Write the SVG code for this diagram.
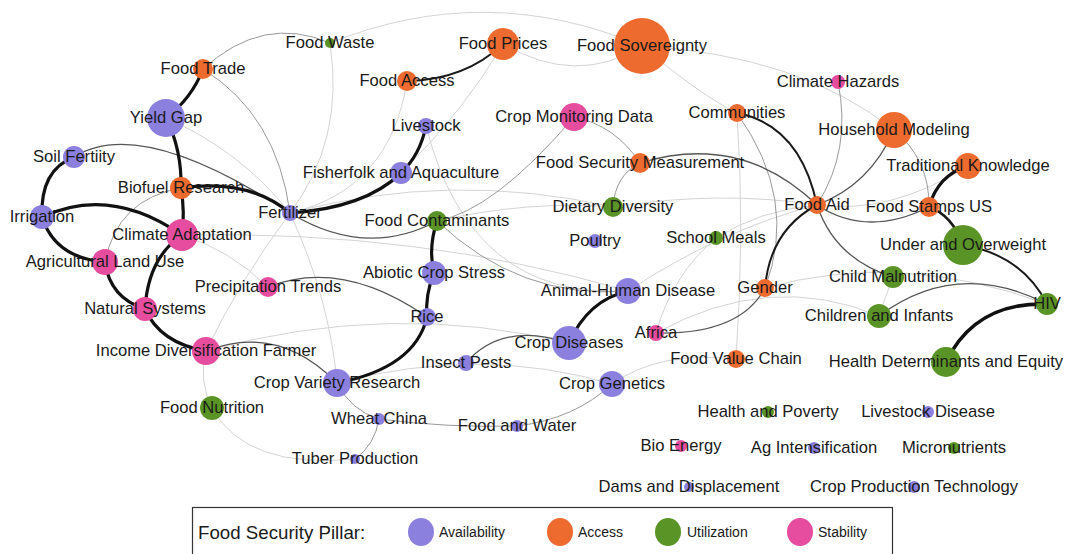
<svg xmlns="http://www.w3.org/2000/svg" width="1067" height="554" viewBox="0 0 1067 554">
<style>
.e{fill:none;stroke-linecap:round}
.k{stroke:#111;stroke-width:3.2}
.k2{stroke:#1a1a1a;stroke-width:2}
.m{stroke:#555;stroke-width:1.3}
.g{stroke:#9a9a9a;stroke-width:1}
.l{stroke:#d4d4d4;stroke-width:1}
.av{fill:#8b80de}
.ac{fill:#ee6b30}
.ut{fill:#5a9426}
.st{fill:#e64d9f}
text{font-family:"Liberation Sans",Arial,sans-serif;fill:#1a1a1a}
.t{font-size:16.6px;text-anchor:middle}
.lg{font-size:14px}
</style>
<rect width="1067" height="554" fill="#fff"/>
<g id="edges">
<path class="e l" d="M330 43 Q486 -20 642 46"/>
<path class="e l" d="M642 46 Q800 55 894 130"/>
<path class="e l" d="M642 46 Q700 95 737 113"/>
<path class="e l" d="M503 44 Q577 87 642 46"/>
<path class="e l" d="M330 43 Q345 140 290 213"/>
<path class="e l" d="M407 81 Q390 190 290 213"/>
<path class="e l" d="M503 44 Q465 110 401 173"/>
<path class="e l" d="M166 118 Q240 150 290 213"/>
<path class="e l" d="M182 235 Q230 250 268 287"/>
<path class="e l" d="M182 235 Q420 230 628 291"/>
<path class="e l" d="M290 213 Q450 170 613 207"/>
<path class="e l" d="M290 213 Q240 280 206 351"/>
<path class="e l" d="M290 213 Q330 300 337 383"/>
<path class="e l" d="M426 126 Q470 300 628 291"/>
<path class="e l" d="M437 221 Q530 200 613 207"/>
<path class="e l" d="M613 207 Q720 190 817 205"/>
<path class="e l" d="M817 205 Q760 210 716 238"/>
<path class="e l" d="M736 359 Q745 230 737 113"/>
<path class="e l" d="M765 288 Q900 250 1047 304"/>
<path class="e l" d="M612 384 Q660 350 736 359"/>
<path class="e l" d="M656 333 Q770 270 879 316"/>
<path class="e l" d="M206 351 Q390 300 569 343"/>
<path class="e l" d="M337 383 Q480 345 612 384"/>
<path class="e l" d="M817 205 Q890 215 968 166"/>
<path class="e l" d="M628 291 Q720 230 817 205"/>
<path class="e l" d="M893 277 Q885 298 879 316"/>
<path class="e l" d="M656 333 Q672 275 716 238"/>
<path class="e l" d="M206 351 Q198 380 212 408"/>
<path class="e l" d="M212 408 Q246 470 355 459"/>
<path class="e g" d="M640 163 Q615 175 613 207"/>
<path class="e g" d="M574 117 Q615 125 640 163"/>
<path class="e g" d="M894 130 Q930 160 929 207"/>
<path class="e g" d="M838 82 Q852 150 817 205"/>
<path class="e g" d="M203 69 Q277 115 290 213"/>
<path class="e g" d="M203 69 Q263 14 330 43"/>
<path class="e g" d="M737 113 Q799 200 765 288"/>
<path class="e g" d="M612 384 Q575 419 517 426"/>
<path class="e g" d="M517 426 Q448 428 379 419"/>
<path class="e g" d="M379 419 Q375 445 355 459"/>
<path class="e g" d="M379 419 Q350 410 337 383"/>
<path class="e g" d="M181 188 Q117 199 105 262"/>
<path class="e g" d="M437 221 Q520 300 628 291"/>
<path class="e g" d="M574 117 Q494 211 437 221"/>
<path class="e m" d="M74 157 Q140 115 290 213"/>
<path class="e m" d="M290 213 Q366 259 437 221"/>
<path class="e m" d="M268 287 Q342 258 427 317"/>
<path class="e m" d="M206 351 Q278 323 337 383"/>
<path class="e m" d="M569 343 Q502 321 466 363"/>
<path class="e m" d="M656 333 Q740 335 765 288"/>
<path class="e m" d="M817 205 Q741 132 640 163"/>
<path class="e m" d="M817 205 Q867 238 929 207"/>
<path class="e m" d="M817 205 Q835 259 893 277"/>
<path class="e m" d="M879 316 Q957 258 1047 304"/>
<path class="e m" d="M817 205 Q870 185 894 130"/>
<path class="e k" d="M203 69 Q192 98 166 118"/>
<path class="e k" d="M166 118 Q182 150 181 188"/>
<path class="e k" d="M181 188 Q185 212 182 235"/>
<path class="e k" d="M181 188 Q248 178 290 213"/>
<path class="e k" d="M74 157 Q40 170 42 217"/>
<path class="e k" d="M42 217 Q110 185 182 235"/>
<path class="e k" d="M42 217 Q55 258 105 262"/>
<path class="e k" d="M105 262 Q110 298 145 309"/>
<path class="e k" d="M182 235 Q148 258 145 309"/>
<path class="e k" d="M145 309 Q160 343 206 351"/>
<path class="e k" d="M290 213 Q365 208 401 173"/>
<path class="e k" d="M401 173 Q420 155 426 126"/>
<path class="e k" d="M437 221 Q428 248 434 273"/>
<path class="e k" d="M434 273 Q425 295 427 317"/>
<path class="e k" d="M427 317 Q415 368 337 383"/>
<path class="e k" d="M628 291 Q588 300 569 343"/>
<path class="e k2" d="M817 205 Q800 125 737 113"/>
<path class="e k2" d="M817 205 Q770 230 765 288"/>
<path class="e k" d="M929 207 Q938 175 968 166"/>
<path class="e k2" d="M929 207 Q952 215 963 245" style="stroke-width:2.6"/>
<path class="e k2" d="M963 245 Q1022 255 1047 304"/>
<path class="e k" d="M1047 304 Q975 302 946 362" style="stroke-width:3.6"/>
<path class="e k2" d="M407 81 Q465 80 503 44" style="stroke-width:1.8"/>
</g>
<g id="n-food-waste"><circle class="ut" cx="330" cy="43" r="5"/><text class="t" x="330" y="48">Food Waste</text></g>
<g id="n-food-trade"><circle class="ac" cx="203" cy="69" r="10"/><text class="t" x="203" y="74">Food Trade</text></g>
<g id="n-yield-gap"><circle class="av" cx="166" cy="118" r="19"/><text class="t" x="166" y="123">Yield Gap</text></g>
<g id="n-soil-fertility"><circle class="av" cx="74" cy="157" r="11"/><text class="t" x="74" y="162">Soil Fertiity</text></g>
<g id="n-biofuel-research"><circle class="ac" cx="181" cy="188" r="11"/><text class="t" x="181" y="193">Biofuel Research</text></g>
<g id="n-irrigation"><circle class="av" cx="42" cy="217" r="12"/><text class="t" x="42" y="222">Irrigation</text></g>
<g id="n-fertilizer"><circle class="av" cx="290" cy="213" r="8"/><text class="t" x="290" y="218">Fertilizer</text></g>
<g id="n-climate-adaptation"><circle class="st" cx="182" cy="235" r="16"/><text class="t" x="182" y="240">Climate Adaptation</text></g>
<g id="n-agricultural-land-use"><circle class="st" cx="105" cy="262" r="13"/><text class="t" x="105" y="267">Agricultural Land Use</text></g>
<g id="n-natural-systems"><circle class="st" cx="145" cy="309" r="12"/><text class="t" x="145" y="314">Natural Systems</text></g>
<g id="n-income-diversification"><circle class="st" cx="206" cy="351" r="14"/><text class="t" x="206" y="356">Income Diversification Farmer</text></g>
<g id="n-precipitation-trends"><circle class="st" cx="268" cy="287" r="10"/><text class="t" x="268" y="292">Precipitation Trends</text></g>
<g id="n-food-nutrition"><circle class="ut" cx="212" cy="408" r="12"/><text class="t" x="212" y="413">Food Nutrition</text></g>
<g id="n-crop-variety-research"><circle class="av" cx="337" cy="383" r="14"/><text class="t" x="337" y="388">Crop Variety Research</text></g>
<g id="n-tuber-production"><circle class="av" cx="355" cy="459" r="5"/><text class="t" x="355" y="464">Tuber Production</text></g>
<g id="n-wheat-china"><circle class="av" cx="379" cy="419" r="6"/><text class="t" x="379" y="424">Wheat China</text></g>
<g id="n-food-prices"><circle class="ac" cx="503" cy="44" r="16"/><text class="t" x="503" y="49">Food Prices</text></g>
<g id="n-food-sovereignty"><circle class="ac" cx="642" cy="46" r="28"/><text class="t" x="642" y="51">Food Sovereignty</text></g>
<g id="n-food-access"><circle class="ac" cx="407" cy="81" r="10"/><text class="t" x="407" y="86">Food Access</text></g>
<g id="n-livestock"><circle class="av" cx="426" cy="126" r="8"/><text class="t" x="426" y="131">Livestock</text></g>
<g id="n-fisherfolk"><circle class="av" cx="401" cy="173" r="11"/><text class="t" x="401" y="178">Fisherfolk and Aquaculture</text></g>
<g id="n-crop-monitoring"><circle class="st" cx="574" cy="117" r="14"/><text class="t" x="574" y="122">Crop Monitoring Data</text></g>
<g id="n-fs-measurement"><circle class="ac" cx="640" cy="163" r="10"/><text class="t" x="640" y="168">Food Security Measurement</text></g>
<g id="n-dietary-diversity"><circle class="ut" cx="613" cy="207" r="10"/><text class="t" x="613" y="212">Dietary Diversity</text></g>
<g id="n-food-contaminants"><circle class="ut" cx="437" cy="221" r="10"/><text class="t" x="437" y="226">Food Contaminants</text></g>
<g id="n-poultry"><circle class="av" cx="595" cy="241" r="7"/><text class="t" x="595" y="246">Poultry</text></g>
<g id="n-abiotic-crop-stress"><circle class="av" cx="434" cy="273" r="12"/><text class="t" x="434" y="278">Abiotic Crop Stress</text></g>
<g id="n-rice"><circle class="av" cx="427" cy="317" r="9"/><text class="t" x="427" y="322">Rice</text></g>
<g id="n-animal-human"><circle class="av" cx="628" cy="291" r="13"/><text class="t" x="628" y="296">Animal-Human Disease</text></g>
<g id="n-africa"><circle class="st" cx="656" cy="333" r="8"/><text class="t" x="656" y="338">Africa</text></g>
<g id="n-crop-diseases"><circle class="av" cx="569" cy="343" r="17"/><text class="t" x="569" y="348">Crop Diseases</text></g>
<g id="n-insect-pests"><circle class="av" cx="466" cy="363" r="8"/><text class="t" x="466" y="368">Insect Pests</text></g>
<g id="n-crop-genetics"><circle class="av" cx="612" cy="384" r="13"/><text class="t" x="612" y="389">Crop Genetics</text></g>
<g id="n-food-and-water"><circle class="av" cx="517" cy="426" r="6"/><text class="t" x="517" y="431">Food and Water</text></g>
<g id="n-bio-energy"><circle class="st" cx="681" cy="446" r="6"/><text class="t" x="681" y="451">Bio Energy</text></g>
<g id="n-climate-hazards"><circle class="st" cx="838" cy="82" r="7"/><text class="t" x="838" y="87">Climate Hazards</text></g>
<g id="n-communities"><circle class="ac" cx="737" cy="113" r="9"/><text class="t" x="737" y="118">Communities</text></g>
<g id="n-household-modeling"><circle class="ac" cx="894" cy="130" r="18"/><text class="t" x="894" y="135">Household Modeling</text></g>
<g id="n-traditional-knowledge"><circle class="ac" cx="968" cy="166" r="13"/><text class="t" x="968" y="171">Traditional Knowledge</text></g>
<g id="n-food-aid"><circle class="ac" cx="817" cy="205" r="9"/><text class="t" x="817" y="210">Food Aid</text></g>
<g id="n-food-stamps"><circle class="ac" cx="929" cy="207" r="10"/><text class="t" x="929" y="212">Food Stamps US</text></g>
<g id="n-under-overweight"><circle class="ut" cx="963" cy="245" r="20"/><text class="t" x="963" y="250">Under and Overweight</text></g>
<g id="n-school-meals"><circle class="ut" cx="716" cy="238" r="7"/><text class="t" x="716" y="243">School Meals</text></g>
<g id="n-child-malnutrition"><circle class="ut" cx="893" cy="277" r="11"/><text class="t" x="893" y="282">Child Malnutrition</text></g>
<g id="n-gender"><circle class="ac" cx="765" cy="288" r="9"/><text class="t" x="765" y="293">Gender</text></g>
<g id="n-hiv"><circle class="ut" cx="1047" cy="304" r="11"/><text class="t" x="1047" y="309">HIV</text></g>
<g id="n-children-infants"><circle class="ut" cx="879" cy="316" r="12"/><text class="t" x="879" y="321">Children and Infants</text></g>
<g id="n-food-value-chain"><circle class="ac" cx="736" cy="359" r="9"/><text class="t" x="736" y="364">Food Value Chain</text></g>
<g id="n-health-determinants"><circle class="ut" cx="946" cy="362" r="15"/><text class="t" x="946" y="367">Health Determinants and Equity</text></g>
<g id="n-health-poverty"><circle class="ut" cx="768" cy="412" r="6"/><text class="t" x="768" y="417">Health and Poverty</text></g>
<g id="n-livestock-disease"><circle class="av" cx="928" cy="412" r="6"/><text class="t" x="928" y="417">Livestock Disease</text></g>
<g id="n-ag-intensification"><circle class="av" cx="814" cy="448" r="6"/><text class="t" x="814" y="453">Ag Intensification</text></g>
<g id="n-micronutrients"><circle class="ut" cx="954" cy="448" r="6"/><text class="t" x="954" y="453">Micronutrients</text></g>
<g id="n-dams-displacement"><circle class="av" cx="689" cy="487" r="5"/><text class="t" x="689" y="492">Dams and Displacement</text></g>
<g id="n-crop-production-tech"><circle class="av" cx="914" cy="487" r="6"/><text class="t" x="914" y="492">Crop Production Technology</text></g>
<g id="legend">
<rect x="192.5" y="507.5" width="700" height="60" fill="#fff" stroke="#333" stroke-width="1.2"/>
<text x="198" y="539" font-size="18.7">Food Security Pillar:</text>
<ellipse class="av" cx="421" cy="532" rx="13" ry="14"/>
<text class="lg" x="439" y="537">Availability</text>
<ellipse class="ac" cx="560" cy="532" rx="13" ry="14"/>
<text class="lg" x="578" y="537">Access</text>
<ellipse class="ut" cx="668" cy="532" rx="13" ry="14"/>
<text class="lg" x="687" y="537">Utilization</text>
<ellipse class="st" cx="800" cy="532" rx="13" ry="14"/>
<text class="lg" x="818" y="537">Stability</text>
</g>
</svg>
